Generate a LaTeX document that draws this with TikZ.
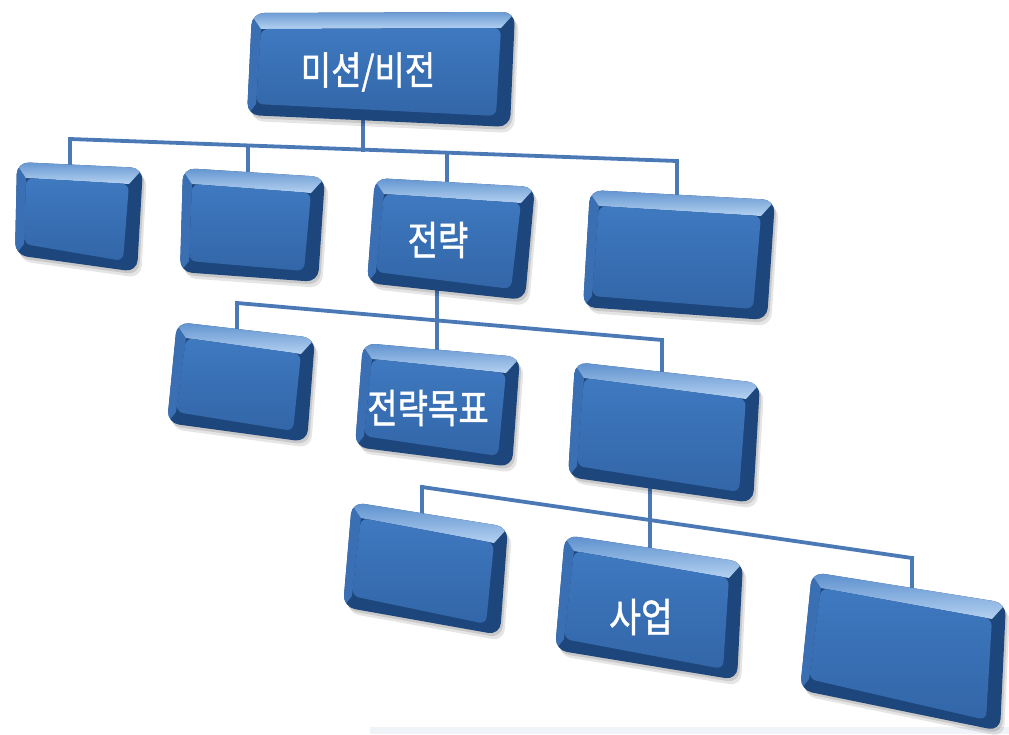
\documentclass[tikz,border=0pt]{standalone}
\usepackage{fontspec}
\usepackage{graphicx}
\usetikzlibrary{calc}
\newfontfamily\kr{Noto Sans CJK KR}[FakeBold=1.2]
\definecolor{facetop}{HTML}{3F79C0}
\definecolor{facebot}{HTML}{3266A8}
\definecolor{rimdark}{HTML}{1D467C}
\definecolor{rimlight}{HTML}{B4D1F1}
\definecolor{rimmid}{HTML}{4F86C8}
\definecolor{leftrim}{HTML}{3A70B3}
\definecolor{linkblue}{HTML}{4A79B6}
\definecolor{floorband}{HTML}{F0F4F9}
\tikzset{
  conn/.style={draw=linkblue, line width=3.8pt, line cap=rect},
  lbl/.style={text=white, font=\kr\fontsize{33}{38}\selectfont, inner sep=0pt},
}
% bevelled box in perspective: #1 name, #2..#5 corners TL TR BR BL
\newcommand\bevelbox[5]{%
  \coordinate (#1-tl) at (#2);
  \coordinate (#1-tr) at (#3);
  \coordinate (#1-br) at (#4);
  \coordinate (#1-bl) at (#5);
  \coordinate (#1-itl) at ($(#1-tl)+(9,16)$);
  \coordinate (#1-itr) at ($(#1-tr)+(-14,16)$);
  \coordinate (#1-ibr) at ($(#1-br)+(-14,-11)$);
  \coordinate (#1-ibl) at ($(#1-bl)+(9,-11)$);
  % soft drop shadow
  \fill[black, opacity=0.10, rounded corners=12pt]
    ($(#1-tl)+(4,6)$) -- ($(#1-tr)+(4,6)$) -- ($(#1-br)+(4,6)$) -- ($(#1-bl)+(4,6)$) -- cycle;
  \fill[black, opacity=0.12, rounded corners=12pt]
    ($(#1-tl)+(2,3)$) -- ($(#1-tr)+(2,3)$) -- ($(#1-br)+(2,3)$) -- ($(#1-bl)+(2,3)$) -- cycle;
  % outer rim
  \fill[rimdark, rounded corners=12pt] (#1-tl) -- (#1-tr) -- (#1-br) -- (#1-bl) -- cycle;
  \begin{scope}
    \clip[rounded corners=12pt] (#1-tl) -- (#1-tr) -- (#1-br) -- (#1-bl) -- cycle;
    % left bevel
    \fill[leftrim] ($(#1-tl)+(-6,-6)$) -- (#1-itl) -- (#1-ibl) -- ($(#1-bl)+(-6,8)$) -- cycle;
    % top bevel highlight
    \shade[top color=rimmid, bottom color=rimlight]
      ($(#1-tl)+(-6,-6)$) -- ($(#1-tr)+(6,-6)$) -- (#1-itr) -- (#1-itl) -- cycle;
  \end{scope}
  % face
  \shade[top color=facetop, bottom color=facebot, rounded corners=7pt]
    (#1-itl) -- (#1-itr) -- (#1-ibr) -- (#1-ibl) -- cycle;
}
\begin{document}
\begin{tikzpicture}[x=1pt, y=-1pt]
  \useasboundingbox (0,0) rectangle (1009,734);
  \fill[white] (0,0) rectangle (1009,734);
  \fill[floorband] (370,727) rectangle (1009,734);

  % junction points of the three connector bars
  \coordinate (j0) at (363,149.6);
  \coordinate (j1) at (70,139);
  \coordinate (j2) at (248,145.5);
  \coordinate (j3) at (447,152.7);
  \coordinate (j4) at (677,161);
  \coordinate (k0) at (437,320.4);
  \coordinate (k1) at (237,303);
  \coordinate (k2) at (437,320.4);
  \coordinate (k3) at (662,340);
  \coordinate (m0) at (650,520);
  \coordinate (m1) at (422,487);
  \coordinate (m2) at (650,520);
  \coordinate (m3) at (912,558);

  % stem and drop ends on the boxes
  \coordinate (b0-s) at (363,118);
  \coordinate (b1-n) at (70,170);
  \coordinate (b2-n) at (248,176);
  \coordinate (b3-n) at (447,186);
  \coordinate (b4-n) at (677,200);
  \coordinate (b3-s) at (437,288);
  \coordinate (b5-n) at (237,334);
  \coordinate (b6-n) at (437,354);
  \coordinate (b7-n) at (662,376);
  \coordinate (b7-s) at (650,486);
  \coordinate (b8-n) at (422,518);
  \coordinate (b9-n) at (650,552);
  \coordinate (b10-n) at (912,590);

  % connectors
  \draw[conn] (b0-s) -- (j0);
  \draw[conn] (j1) -- (j4);
  \draw[conn] (j1) -- (b1-n);
  \draw[conn] (j2) -- (b2-n);
  \draw[conn] (j3) -- (b3-n);
  \draw[conn] (j4) -- (b4-n);
  \draw[conn] (b3-s) -- (k0);
  \draw[conn] (k1) -- (k3);
  \draw[conn] (k1) -- (b5-n);
  \draw[conn] (k2) -- (b6-n);
  \draw[conn] (k3) -- (b7-n);
  \draw[conn] (b7-s) -- (m0);
  \draw[conn] (m1) -- (m3);
  \draw[conn] (m1) -- (b8-n);
  \draw[conn] (m2) -- (b9-n);
  \draw[conn] (m3) -- (b10-n);

  % boxes
  \bevelbox{b0}{252,13}{515,12}{510,127}{247,115}
  \bevelbox{b1}{17,162}{143,168}{137,272}{15,255}
  \bevelbox{b2}{183,168}{325,177}{318,282}{180,272}
  \bevelbox{b3}{375,178}{535,187}{525,300}{367,283}
  \bevelbox{b4}{590,190}{775,200}{767,320}{583,307}
  \bevelbox{b5}{177,322}{315,338}{307,442}{167,423}
  \bevelbox{b6}{363,343}{520,357}{512,467}{355,447}
  \bevelbox{b7}{575,362}{760,383}{753,503}{568,477}
  \bevelbox{b8}{352,502}{508,527}{500,635}{343,607}
  \bevelbox{b9}{565,535}{743,562}{737,680}{555,650}
  \bevelbox{b10}{812,572}{1006,603}{1000,731}{800,690}

  % labels
  \node[lbl] (t0) at (368,72) {\scalebox{1}[1.18]{미션/비전}};
  \node[lbl] (t3) at (438,240) {\scalebox{1}[1.22]{전략}};
  \node[lbl] (t6) at (428,408) {\scalebox{1}[1.22]{전략목표}};
  \node[lbl] (t9) at (641,617) {\scalebox{1.05}[1.22]{사업}};
\end{tikzpicture}
\end{document}
